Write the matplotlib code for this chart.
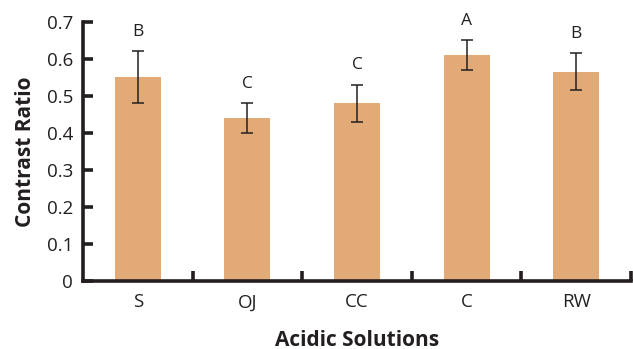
import numpy as np
import matplotlib.pyplot as plt

# data
solutions = ["S", "OJ", "CC", "C", "RW"]
ratio = [0.55, 0.44, 0.48, 0.61, 0.565]
ratio_err = [0.07, 0.04, 0.05, 0.04, 0.05]
groups = ["B", "C", "C", "A", "B"]

plt.rcParams['font.family'] = ['Open Sans', 'DejaVu Sans']
ink = "#231f20"

fig = plt.figure(figsize=(6.33, 3.49), dpi=100)
ax = fig.add_axes([0.131, 0.195, 0.866, 0.743])

x = np.arange(len(solutions))
ax.bar(x, ratio, width=0.42, color="#e2aa76", zorder=2)
ax.errorbar(x, ratio, yerr=ratio_err, fmt="none", ecolor=ink,
            elinewidth=1.1, capsize=4.5, capthick=1.1, zorder=3)

for xi, top, g in zip(x, np.add(ratio, ratio_err), groups):
    ax.annotate(g, (xi, top), xytext=(0, 14), textcoords="offset points",
                ha="center", va="center", fontsize=12.5, color=ink)

ax.set_xlim(-0.5, 4.5)
ax.set_ylim(0, 0.7)
ax.set_yticks(np.arange(0, 0.71, 0.1))
ax.set_yticklabels(["0", "0.1", "0.2", "0.3", "0.4", "0.5", "0.6", "0.7"])
ax.set_xticks(x)
ax.set_xticklabels(solutions)
ax.set_xticks([0.5, 1.5, 2.5, 3.5, 4.5], minor=True)

ax.tick_params(axis="x", which="major", length=0, labelsize=13.5, pad=9, colors=ink)
ax.tick_params(axis="x", which="minor", direction="in", length=7, width=2.6, color=ink)
ax.tick_params(axis="y", direction="in", length=7, width=2.6, labelsize=13.5, pad=7,
               color=ink, labelcolor=ink)

for s in ["top", "right"]:
    ax.spines[s].set_visible(False)
for s in ["left", "bottom"]:
    ax.spines[s].set_linewidth(2.6)
    ax.spines[s].set_color(ink)

ax.set_xlabel("Acidic Solutions", fontsize=15, fontweight="bold", color=ink, labelpad=13)
ax.set_ylabel("Contrast Ratio", fontsize=15, fontweight="bold", color=ink, labelpad=8)

fig.savefig("out.png", dpi=100)
